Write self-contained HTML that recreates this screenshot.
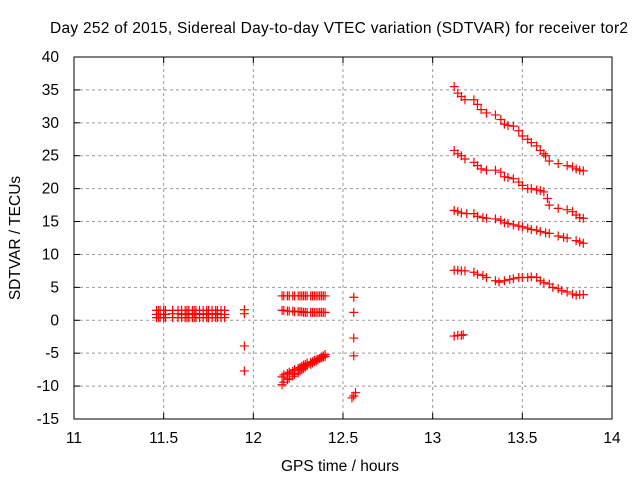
<!DOCTYPE html>
<html><head><meta charset="utf-8"><style>
body{margin:0;background:#fff}
svg text{font-family:"Liberation Sans",sans-serif;font-size:15.5px;fill:#000}
</style></head><body>
<svg id="c" width="640" height="480"></svg>
<script>
const xTicks=[11,11.5,12,12.5,13,13.5,14];
const xTickLabels=["11","11.5","12","12.5","13","13.5","14"];
const yTicks=[-15,-10,-5,0,5,10,15,20,25,30,35,40];
const xs_a=[11.46,11.47,11.48,11.5,11.51,11.55,11.58,11.6,11.62,11.63,11.64,11.66,11.67,11.68,11.7,11.72,11.74,11.75,11.77,11.79,11.8,11.82,11.84];
const ys_a_top=xs_a.map(()=>1.5);
const ys_a_mid=[0.9,0.9,0.9,0.9,0.9,1.0,1.0,0.9,0.9,1.0,0.9,0.9,1.0,0.9,1.0,0.9,1.0,1.0,0.9,1.0,1.0,0.9,0.9];
const ys_a_bot=xs_a.map(()=>0.4);
const xs_b=[11.95,11.95,11.95,11.95];
const ys_b=[1.6,1.0,-3.9,-7.7];
const xs_c=[12.16,12.17,12.19,12.2,12.22,12.23,12.25,12.26,12.27,12.28,12.29,12.3,12.32,12.33,12.34,12.35,12.36,12.37,12.38,12.39,12.4];
const ys_c_top=xs_c.map(()=>3.7);
const ys_c_bot=[1.5,1.5,1.4,1.4,1.4,1.3,1.3,1.3,1.3,1.2,1.2,1.2,1.2,1.2,1.2,1.2,1.2,1.2,1.2,1.2,1.2];
const ys_c_d1=[-9.8,-9.4,-9.0,-8.8,-8.5,-8.2,-8.0,-7.7,-7.5,-7.3,-7.1,-6.9,-6.7,-6.5,-6.3,-6.2,-6.0,-5.8,-5.6,-5.4,-5.2];
const ys_c_d2=[-8.6,-8.3,-8.1,-7.9,-7.7,-7.5,-7.3,-7.2,-7.0,-6.8,-6.7,-6.5,-6.4,-6.3,-6.1,-6.0,-5.9,-5.8,-5.7,-5.6,-5.5];
const xs_d=[12.56,12.56,12.56,12.56,12.56,12.57,12.55];
const ys_d=[3.5,1.2,-2.7,-5.4,-11.5,-11.0,-11.8];
const xs_e1=[13.12,13.14,13.16,13.18,13.23,13.25,13.27,13.3,13.35,13.38,13.4,13.42,13.45,13.48,13.5,13.53,13.55,13.58,13.6,13.62,13.63,13.65,13.7,13.75,13.78,13.8,13.82,13.84];
const ys_e1=[35.5,34.5,34,33.5,33.5,32.8,32,31.5,31.2,30.5,29.8,29.6,29.5,28.8,28,27.5,27,26.5,25.8,25.3,25,24.2,23.8,23.5,23.3,23,22.8,22.7];
const xs_e2=[13.12,13.14,13.16,13.18,13.23,13.25,13.27,13.3,13.35,13.38,13.4,13.42,13.45,13.48,13.5,13.53,13.55,13.58,13.6,13.62,13.64,13.65,13.7,13.75,13.78,13.8,13.82,13.84];
const ys_e2=[25.8,25.3,25,24.5,24,23.5,23,22.8,22.8,22.5,21.8,21.7,21.5,21,20.5,20,20,19.8,19.7,19.5,18.5,17.5,17,16.8,16.5,16,15.6,15.5];
const xs_e3=[13.12,13.14,13.16,13.19,13.23,13.25,13.28,13.3,13.35,13.38,13.4,13.42,13.45,13.48,13.5,13.53,13.55,13.58,13.6,13.63,13.65,13.7,13.73,13.75,13.8,13.82,13.84];
const ys_e3=[16.7,16.5,16.3,16.2,16.2,15.8,15.6,15.5,15.4,15.2,14.8,14.7,14.5,14.3,14.2,14.0,13.8,13.7,13.5,13.3,13.2,12.8,12.6,12.5,12.1,11.9,11.7];
const xs_e4=[13.12,13.14,13.16,13.18,13.23,13.25,13.28,13.3,13.35,13.37,13.4,13.43,13.45,13.48,13.5,13.53,13.55,13.58,13.6,13.62,13.65,13.67,13.7,13.72,13.75,13.78,13.8,13.82,13.84];
const ys_e4=[7.6,7.6,7.5,7.5,7.3,7.0,6.8,6.5,6.0,5.8,6.0,6.2,6.3,6.5,6.5,6.5,6.6,6.5,6.0,5.7,5.5,5.0,4.8,4.5,4.3,4.0,3.8,3.9,3.9];
const xs_e5=[13.12,13.14,13.16,13.17];
const ys_e5=[-2.4,-2.3,-2.3,-2.2];

const L=74,R=612,T=57,B=419;
const X=v=>L+(v-11)/3*(R-L);
const Y=v=>T+(40-v)/55*(B-T);
const svg=document.getElementById('c');
const NS='http://www.w3.org/2000/svg';
function mk(t,a,p){const e=document.createElementNS(NS,t);for(const k in a)e.setAttribute(k,a[k]);(p||svg).appendChild(e);return e;}
xTicks.forEach((t,i)=>{
 if(i>0&&i<xTicks.length-1){const g=mk('line',{x1:X(t),x2:X(t),y1:T,y2:B,stroke:'#999','stroke-dasharray':'3,3'});
 
 }
 mk('line',{x1:X(t),x2:X(t),y1:B,y2:B-6,stroke:'#000'});
 mk('line',{x1:X(t),x2:X(t),y1:T,y2:T+6,stroke:'#000'});
 const tx=mk('text',{x:X(t),y:B+24,'text-anchor':'middle'});tx.textContent=xTickLabels[i];
 
 
});
yTicks.forEach((t,i)=>{
 if(i>0&&i<yTicks.length-1){const g=mk('line',{x1:L,x2:R,y1:Y(t),y2:Y(t),stroke:'#999','stroke-dasharray':'3,3'});
 
 }
 mk('line',{x1:L,x2:L+6,y1:Y(t),y2:Y(t),stroke:'#000'});
 mk('line',{x1:R,x2:R-6,y1:Y(t),y2:Y(t),stroke:'#000'});
 const tx=mk('text',{x:L-15,y:Y(t)+5,'text-anchor':'end'});tx.textContent=String(t);
 
 
});
const fr=mk('rect',{x:L,y:T,width:R-L,height:B-T,fill:'none',stroke:'#000'});


function pts(xs,ys,name){
 const g=mk('g',{stroke:'#ff0000','stroke-width':1.2});
 
 
 xs.forEach((x,i)=>{const px=X(x),py=Y(ys[i]);
  mk('path',{d:`M${px-4.5},${py}H${px+4.5}M${px},${py-4.5}V${py+4.5}`},g);});
}
pts(xs_a,ys_a_top,'cluster-a-top');pts(xs_a,ys_a_mid,'cluster-a-mid');pts(xs_a,ys_a_bot,'cluster-a-bottom');
pts(xs_b,ys_b,'cluster-b');
pts(xs_c,ys_c_top,'cluster-c-top');pts(xs_c,ys_c_bot,'cluster-c-bottom');pts(xs_c,ys_c_d1,'cluster-c-diag1');pts(xs_c,ys_c_d2,'cluster-c-diag2');
pts(xs_d,ys_d,'cluster-d');
pts(xs_e1,ys_e1,'series-e1');pts(xs_e2,ys_e2,'series-e2');pts(xs_e3,ys_e3,'series-e3');pts(xs_e4,ys_e4,'series-e4');pts(xs_e5,ys_e5,'series-e5');
let t=mk('text',{x:339,y:33,'text-anchor':'middle',textLength:578});t.textContent='Day 252 of 2015, Sidereal Day-to-day VTEC variation (SDTVAR) for receiver tor2';


t=mk('text',{x:340,y:471,'text-anchor':'middle'});t.textContent='GPS time / hours';


t=mk('text',{x:20,y:238,'text-anchor':'middle',transform:'rotate(-90 20 238)'});t.textContent='SDTVAR / TECUs';


</script>
</body></html>
